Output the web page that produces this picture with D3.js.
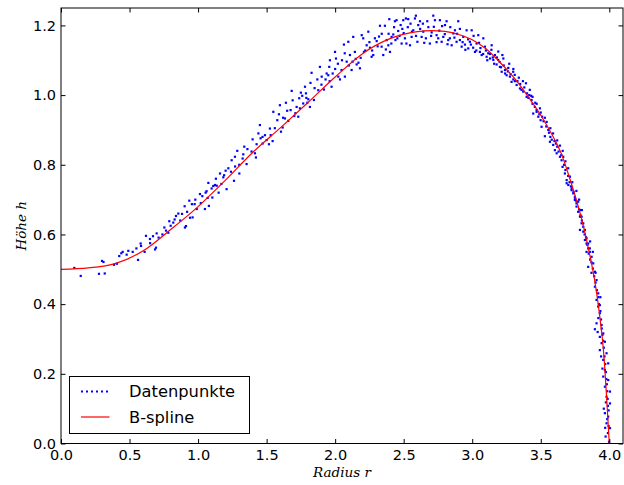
<!DOCTYPE html>
<html>
<head>
<meta charset="utf-8">
<script src="https://cdn.jsdelivr.net/npm/d3@7"></script>
<style>
  html, body { margin: 0; padding: 0; background: #fff; }
  svg { display: block; }
</style>
</head>
<body>
<div id="chart"></div>
<script>
// Messpunkte (r, h)
const datenpunkte = [
  [0.097,0.504],[0.144,0.481],[0.277,0.487],[0.319,0.488],[0.299,0.524],[0.31,0.521],[0.387,0.513],[0.408,0.516],
  [0.425,0.538],[0.44,0.546],[0.45,0.550],[0.479,0.542],[0.491,0.553],[0.523,0.550],[0.562,0.527],[0.581,0.574],
  [0.584,0.567],[0.610,0.550],[0.620,0.596],[0.649,0.587],[0.671,0.595],[0.686,0.557],[0.693,0.562],[0.698,0.603],
  [0.712,0.591],[0.754,0.620],[0.766,0.611],[0.783,0.605],[0.790,0.638],[0.819,0.634],[0.829,0.643],[0.839,0.653],
  [0.856,0.660],[0.904,0.620],[0.912,0.624],[0.883,0.659],[0.902,0.681],[0.936,0.697],[0.941,0.648],[0.960,0.649],
  [0.955,0.687],[0.975,0.687],[0.990,0.673],[1.014,0.716],[1.031,0.710],[1.050,0.673],[1.055,0.720],[1.062,0.724],
  [1.075,0.748],[1.079,0.682],[1.099,0.732],[1.104,0.706],[1.111,0.739],[1.123,0.742],[1.136,0.740],[1.150,0.720],
  [1.160,0.775],[1.184,0.764],[1.201,0.783],[1.208,0.730],[1.262,0.754],
  [0.55,0.560],[0.65,0.575],[0.74,0.600],[0.80,0.625],[0.87,0.640],[0.92,0.665],[0.98,0.700],[1.02,0.690],
  [1.07,0.705],[1.13,0.760],[1.17,0.745],[1.19,0.770],[1.24,0.780],[1.27,0.795],
  [1.221,0.790],[1.245,0.813],[1.269,0.823],[1.286,0.840],[1.301,0.775],[1.325,0.818],[1.337,0.852],[1.354,0.802],
  [1.398,0.873],[1.415,0.833],[1.422,0.821],[1.427,0.859],[1.451,0.914],[1.456,0.876],[1.471,0.861],[1.488,0.885],
  [1.500,0.871],[1.517,0.859],[1.524,0.904],[1.544,0.868],[1.549,0.952],[1.578,0.928],[1.597,0.971],[1.605,0.895],
  [1.617,0.907],[1.634,0.933],[1.641,0.978],[1.658,0.926],[1.675,0.957],[1.683,1.012],[1.702,0.940],[1.719,0.966],
  [1.731,0.938],[1.738,0.991],[1.743,0.962],[1.750,1.007],[1.767,0.976],[1.780,1.024],[1.787,1.005],[1.797,0.978],
  [1.804,0.988],[1.816,0.966],[1.828,1.064],[1.845,0.986],[1.877,1.014],[1.889,1.081],[1.902,1.053],[1.918,1.016],
  [1.938,1.062],[1.950,1.057],[1.957,1.081],[1.962,1.100],[1.974,1.024],[1.982,1.062],[1.999,1.124],[2.006,1.105],
  [2.023,1.053],[2.035,1.045],
  [1.30,0.800],[1.33,0.830],[1.36,0.845],[1.39,0.838],[1.44,0.890],[1.47,0.880],[1.53,0.885],[1.56,0.905],
  [1.59,0.945],[1.62,0.935],[1.65,0.955],[1.69,0.985],[1.71,0.948],[1.76,0.998],[1.79,0.992],[1.82,1.035],
  [1.85,1.020],[1.87,1.045],[1.90,1.030],[1.93,1.045],[1.96,1.040],[2.00,1.075],[2.02,1.090],[2.05,1.100],
  [2.07,1.120],
  [2.047,1.072],[2.071,1.053],[2.084,1.096],[2.064,1.145],[2.096,1.153],[2.108,1.115],[2.127,1.096],[2.132,1.167],
  [2.144,1.124],[2.157,1.088],[2.181,1.077],[2.186,1.107],[2.194,1.172],[2.205,1.163],[2.210,1.124],[2.230,1.143],
  [2.242,1.182],[2.254,1.136],[2.266,1.110],[2.278,1.115],[2.290,1.163],[2.303,1.155],[2.327,1.199],[2.339,1.139],
  [2.351,1.115],[2.363,1.199],[2.376,1.158],[2.388,1.143],[2.395,1.218],[2.400,1.124],[2.412,1.167],[2.424,1.174],
  [2.436,1.212],[2.448,1.215],[2.454,1.163],[2.460,1.184],[2.478,1.201],[2.485,1.148],[2.497,1.215],[2.509,1.163],
  [2.516,1.220],[2.533,1.218],[2.546,1.143],[2.558,1.167],[2.570,1.186],[2.582,1.220],[2.589,1.228],[2.606,1.201],
  [2.619,1.212],[2.631,1.167],[2.643,1.182],[2.662,1.163],[2.672,1.212],[2.691,1.148],[2.704,1.180],[2.716,1.228],
  [2.728,1.215],[2.740,1.172],[2.752,1.163],[2.764,1.215],[2.777,1.153],[2.789,1.167],[2.801,1.201],[2.813,1.212],
  [2.825,1.158],[2.837,1.163],[2.850,1.143],[2.862,1.177],[2.874,1.186],[2.886,1.153],[2.898,1.212],[2.910,1.158],
  [2.923,1.139],[2.935,1.167],[2.947,1.145],[2.959,1.186],[2.971,1.134],[2.983,1.153],[2.996,1.186],[3.007,1.136],
  [3.020,1.124],[3.032,1.148],[3.044,1.172],[3.056,1.124],[3.069,1.115],[3.081,1.163],[3.093,1.139],[3.105,1.110],
  [3.117,1.120],[3.130,1.105],[3.142,1.143],[3.154,1.101],[3.166,1.115],[3.178,1.088],[3.190,1.101],[3.202,1.081],
  [3.215,1.067],[3.227,1.105],[3.239,1.072],[3.251,1.057],[3.263,1.078],[3.275,1.053],[3.287,1.038],[3.299,1.067],
  [3.311,1.040],[3.324,1.029],
  [2.10,1.085],[2.12,1.072],[2.15,1.104],[2.17,1.093],[2.22,1.128],[2.25,1.152],[2.27,1.128],[2.31,1.140],
  [2.32,1.168],[2.34,1.176],[2.37,1.131],[2.39,1.176],[2.41,1.148],[2.43,1.195],[2.44,1.158],[2.47,1.170],
  [2.49,1.190],[2.50,1.178],[2.52,1.148],[2.53,1.195],[2.55,1.205],[2.56,1.182],[2.59,1.170],[2.60,1.153],
  [2.62,1.190],[2.64,1.205],[2.65,1.150],[2.68,1.195],[2.70,1.170],[2.72,1.196],[2.74,1.152],[2.76,1.185],
  [2.78,1.198],[2.80,1.175],[2.82,1.146],[2.84,1.195],[2.87,1.165],[2.89,1.176],[2.91,1.190],[2.93,1.152],
  [2.95,1.130],[2.97,1.160],[2.99,1.145],[3.01,1.170],[3.03,1.128],[3.05,1.150],[3.06,1.135],[3.08,1.118],
  [3.10,1.128],[3.11,1.100],[3.13,1.118],[3.15,1.108],[3.16,1.090],[3.18,1.108],[3.20,1.095],[3.21,1.080],
  [3.23,1.085],[3.24,1.062],[3.26,1.068],[3.28,1.060],[3.30,1.045],[3.31,1.058],[3.33,1.040],[3.14,1.130],
  [3.22,1.115],[3.19,1.125],[3.27,1.090],[3.30,1.075],
  [3.348,1.019],[3.372,1.010],[3.392,1.034],[3.397,0.995],[3.416,1.000],[3.433,0.986],[3.445,0.947],[3.457,0.966],
  [3.470,0.957],[3.482,0.938],[3.494,0.962],[3.499,0.928],[3.506,0.909],[3.530,0.882],[3.543,0.923],[3.555,0.900],
  [3.567,0.866],[3.591,0.857],[3.603,0.842],[3.611,0.861],[3.616,0.833],[3.640,0.823],[3.652,0.813],[3.659,0.794],
  [3.664,0.823],[3.676,0.775],[3.689,0.756],[3.701,0.742],[3.713,0.766],[3.725,0.732],[3.737,0.718],[3.749,0.699],
  [3.761,0.680],[3.773,0.665],[3.786,0.651],[3.798,0.632],[3.786,0.613],[3.810,0.608],[3.822,0.584],[3.834,0.574],
  [3.846,0.560],[3.858,0.550],
  [3.35,1.032],[3.36,1.015],[3.38,1.022],[3.40,1.005],[3.41,0.992],[3.43,0.998],[3.44,0.975],[3.46,0.978],
  [3.47,0.952],[3.49,0.945],[3.51,0.938],[3.52,0.925],[3.54,0.910],[3.56,0.892],[3.57,0.880],[3.58,0.872],
  [3.60,0.868],[3.62,0.852],[3.63,0.838],[3.65,0.828],[3.67,0.800],[3.68,0.785],[3.70,0.768],[3.71,0.750],
  [3.72,0.738],[3.74,0.722],[3.75,0.702],[3.76,0.695],[3.78,0.672],[3.79,0.655],[3.80,0.640],[3.81,0.622],
  [3.82,0.600],[3.83,0.592],[3.84,0.570],[3.85,0.545],[3.86,0.528],[3.87,0.520],[3.88,0.502],[3.89,0.480],
  [3.37,1.040],[3.34,1.050],[3.42,1.015],[3.44,0.995],[3.47,0.975],[3.50,0.950],[3.53,0.935],[3.57,0.905],
  [3.59,0.890],[3.62,0.870],[3.64,0.855],[3.66,0.840],[3.68,0.810],[3.70,0.790],[3.73,0.750],[3.76,0.725],
  [3.78,0.700],[3.80,0.670],[3.86,0.580],[3.88,0.550],[3.87,0.490],[3.90,0.490],
  [3.689,0.747],[3.725,0.727],[3.749,0.708],[3.761,0.689],[3.773,0.694],[3.786,0.670],[3.798,0.651],[3.810,0.632],
  [3.822,0.613],[3.834,0.589],[3.846,0.574],[3.858,0.560],
  [3.834,0.550],[3.871,0.536],[3.883,0.517],[3.846,0.507],[3.895,0.493],[3.907,0.469],[3.895,0.450],[3.919,0.431],
  [3.907,0.412],[3.931,0.397],
  [3.90,0.462],[3.91,0.440],[3.92,0.420],[3.925,0.400],[3.935,0.380],[3.94,0.356],[3.945,0.330],[3.95,0.312],
  [3.955,0.295],[3.96,0.275],[3.965,0.250],[3.97,0.228],[3.975,0.205],[3.978,0.185],[3.982,0.170],[3.985,0.150],
  [3.988,0.128],[3.99,0.108],[3.995,0.095],[3.985,0.070],[3.995,0.050],[3.99,0.030],[3.97,0.045],[3.96,0.100],
  [3.975,0.118],[3.95,0.215],[3.94,0.250],[3.92,0.360],[3.915,0.320],[3.935,0.420],
  [3.919,0.393],[3.931,0.374],[3.907,0.345],[3.944,0.340],[3.895,0.328],[3.956,0.316],[3.931,0.306],[3.944,0.288],
  [3.968,0.292],[3.931,0.268],[3.980,0.259],[3.956,0.240],[3.992,0.230],[3.968,0.211],[3.956,0.192],[3.992,0.182],
  [3.968,0.163],[4.005,0.149],[3.980,0.134],[4.005,0.115],[3.968,0.087],[3.992,0.077],[3.980,0.058],[4.005,0.044],
  [3.973,0.020],[3.998,0.005]
];

// B-spline through the data
const splineR = [0, 0.2, 0.4, 0.6, 0.8, 1.0, 1.2, 1.4, 1.6, 1.8, 2.0, 2.2, 2.4, 2.6, 2.7, 2.8, 2.9, 3.0, 3.1, 3.2,
                 3.3, 3.4, 3.5, 3.6, 3.65, 3.7, 3.75, 3.8, 3.85, 3.9, 3.93, 3.96, 3.98, 4.0];
const splineH = [0.500, 0.504, 0.517, 0.553, 0.614, 0.680, 0.756, 0.836, 0.906, 0.978, 1.052, 1.119, 1.162, 1.182,
                 1.185, 1.183, 1.174, 1.159, 1.133, 1.095, 1.052, 1.000, 0.942, 0.873, 0.832, 0.775, 0.712, 0.642,
                 0.555, 0.452, 0.366, 0.255, 0.135, 0.000];

const xTicks = [0.0, 0.5, 1.0, 1.5, 2.0, 2.5, 3.0, 3.5, 4.0];
const yTicks = [0.0, 0.2, 0.4, 0.6, 0.8, 1.0, 1.2];
const legendLabels = ["Datenpunkte", "B-spline"];

const width = 624;
const height = 485;
const margin = { top: 8, right: 1, bottom: 41.5, left: 61 };

const x = d3.scaleLinear().domain([0, 4.1]).range([margin.left, width - margin.right]);
const y = d3.scaleLinear().domain([0, 1.25]).range([height - margin.bottom, margin.top]);

const svg = d3.select("#chart").append("svg")
    .attr("width", width)
    .attr("height", height)
    .style("font-family", "'DejaVu Sans', sans-serif");

svg.append("defs").append("clipPath").attr("id", "plot-clip")
  .append("rect")
    .attr("x", margin.left).attr("y", margin.top)
    .attr("width", x.range()[1] - x.range()[0])
    .attr("height", y.range()[0] - y.range()[1]);

const plot = svg.append("g").attr("clip-path", "url(#plot-clip)");

// data points as small blue squares
const s = 2.2;
plot.append("g")
    .attr("fill", "#0000ff")
  .selectAll("rect")
  .data(datenpunkte)
  .join("rect")
    .attr("x", d => x(d[0]) - s / 2)
    .attr("y", d => y(d[1]) - s / 2)
    .attr("width", s)
    .attr("height", s);

// spline
const line = d3.line()
    .x(d => x(d[0]))
    .y(d => y(d[1]))
    .curve(d3.curveMonotoneX);

plot.append("path")
    .datum(d3.zip(splineR, splineH))
    .attr("fill", "none")
    .attr("stroke", "#ff0000")
    .attr("stroke-width", 1.2)
    .attr("d", line);

// axes: inward ticks on all four sides
const tick = 4.5;
const fmt = d3.format(".1f");

svg.append("g")
    .attr("transform", `translate(0,${y(0)})`)
    .call(d3.axisBottom(x).tickValues(xTicks).tickFormat(fmt).tickSizeInner(-tick).tickSizeOuter(0).tickPadding(6))
    .call(g => g.select(".domain").remove())
    .call(g => g.selectAll("text").attr("font-size", 14.5).attr("fill", "#000").attr("font-family", "'DejaVu Sans', sans-serif"));

svg.append("g")
    .attr("transform", `translate(0,${y(1.25)})`)
    .call(d3.axisTop(x).tickValues(xTicks).tickFormat("").tickSizeInner(-tick).tickSizeOuter(0))
    .call(g => g.select(".domain").remove());

svg.append("g")
    .attr("transform", `translate(${x(0)},0)`)
    .call(d3.axisLeft(y).tickValues(yTicks).tickFormat(fmt).tickSizeInner(-tick).tickSizeOuter(0).tickPadding(5))
    .call(g => g.select(".domain").remove())
    .call(g => g.selectAll("text").attr("font-size", 14.5).attr("fill", "#000").attr("font-family", "'DejaVu Sans', sans-serif"));

svg.append("g")
    .attr("transform", `translate(${x(4.1)},0)`)
    .call(d3.axisRight(y).tickValues(yTicks).tickFormat("").tickSizeInner(-tick).tickSizeOuter(0))
    .call(g => g.select(".domain").remove());

svg.selectAll(".tick line").attr("stroke", "#000").attr("stroke-width", 1);

// frame
svg.append("rect")
    .attr("x", x(0)).attr("y", y(1.25))
    .attr("width", x(4.1) - x(0))
    .attr("height", y(0) - y(1.25))
    .attr("fill", "none")
    .attr("stroke", "#000")
    .attr("stroke-width", 1);

// axis labels
svg.append("text")
    .attr("x", (x(0) + x(4.1)) / 2)
    .attr("y", 477)
    .attr("text-anchor", "middle")
    .attr("font-family", "'DejaVu Serif', serif")
    .attr("font-style", "italic")
    .attr("font-size", 13.5)
    .text("Radius r");

svg.append("text")
    .attr("transform", `translate(26,${(y(0) + y(1.25)) / 2}) rotate(-90)`)
    .attr("text-anchor", "middle")
    .attr("font-family", "'DejaVu Serif', serif")
    .attr("font-style", "italic")
    .attr("font-size", 13.5)
    .text("Höhe h");

// legend
const legend = svg.append("g").attr("transform", "translate(69.5,376.5)");
legend.append("rect")
    .attr("width", 180)
    .attr("height", 57)
    .attr("fill", "#fff")
    .attr("stroke", "#000")
    .attr("stroke-width", 1);

const rows = legend.selectAll("g.row")
  .data(legendLabels)
  .join("g")
    .attr("class", "row")
    .attr("transform", (d, i) => `translate(0,${15 + i * 25.5})`);

rows.append("line")
    .attr("x1", 11.5).attr("x2", 40)
    .attr("stroke", (d, i) => i === 0 ? "#0000ff" : "#ff0000")
    .attr("stroke-width", (d, i) => i === 0 ? 2 : 1.2)
    .attr("stroke-dasharray", (d, i) => i === 0 ? "2,3" : null);

rows.append("text")
    .attr("x", 59.5)
    .attr("dy", "0.36em")
    .attr("font-size", 16.3)
    .text(d => d);
</script>
</body>
</html>
